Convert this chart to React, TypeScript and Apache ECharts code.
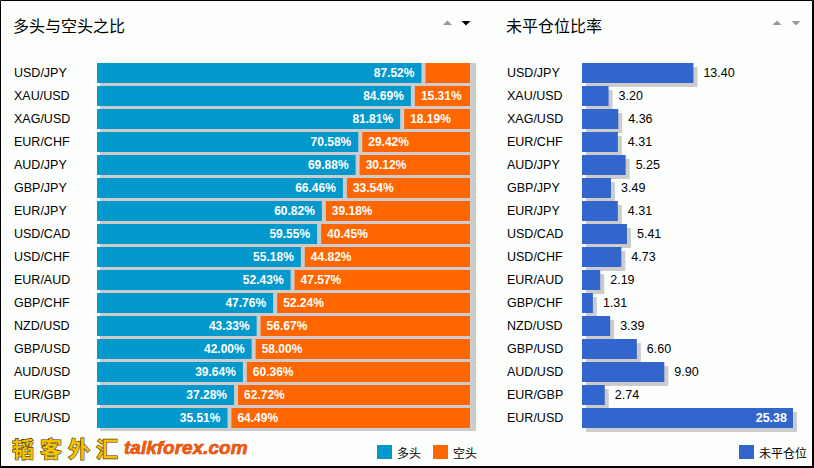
import React, { useEffect, useRef } from "react";
import * as echarts from "echarts";

const categories = [
  "USD/JPY", "XAU/USD", "XAG/USD", "EUR/CHF", "AUD/JPY", "GBP/JPY", "EUR/JPY", "USD/CAD",
  "USD/CHF", "EUR/AUD", "GBP/CHF", "NZD/USD", "GBP/USD", "AUD/USD", "EUR/GBP", "EUR/USD",
];
const longPct = [87.52, 84.69, 81.81, 70.58, 69.88, 66.46, 60.82, 59.55, 55.18, 52.43, 47.76, 43.33, 42.0, 39.64, 37.28, 35.51];
const shortPct = [12.48, 15.31, 18.19, 29.42, 30.12, 33.54, 39.18, 40.45, 44.82, 47.57, 52.24, 56.67, 58.0, 60.36, 62.72, 64.49];
const openInterest = [13.4, 3.2, 4.36, 4.31, 5.25, 3.49, 4.31, 5.41, 4.73, 2.19, 1.31, 3.39, 6.6, 9.9, 2.74, 25.38];
const leftTitle = "多头与空头之比";
const rightTitle = "未平仓位比率";
const leftLegend = ["多头", "空头"];
const rightLegend = ["未平仓位"];

const BLUE = "#0399cc";
const ORANGE = "#ff6600";
const RBLUE = "#3366cc";
const SHADOW = "#cccccc";
const BAR_H = 20;
const LAT = '"Liberation Sans", Arial, sans-serif';
const CJK = '"Noto Sans CJK SC", sans-serif';

function txt(text: string, x: number, y: number, fill: string, font: string, align: string) {
  return {
    type: "text",
    style: {
      text, x, y, fill, font,
      textAlign: align, align,
      textVerticalAlign: "middle", verticalAlign: "middle",
    },
  };
}

function buildOption() {
  const oiMax = Math.max(...openInterest);
  const catLabel = {
    align: "left",
    color: "#000",
    fontSize: 12.5,
    fontFamily: LAT,
  };
  return {
    animation: false,
    backgroundColor: "#fcfefc",
    grid: [
      { left: 97, right: 344, top: 61.5, height: 368 },
      { left: 582, right: 21, top: 61.5, height: 368 },
    ],
    xAxis: [
      { gridIndex: 0, type: "value", min: 0, max: 100, show: false },
      { gridIndex: 1, type: "value", min: 0, max: (v: any) => v.max, show: false },
    ],
    yAxis: [
      {
        gridIndex: 0, type: "category", data: categories, inverse: true,
        axisLine: { show: false }, axisTick: { show: false }, splitLine: { show: false },
        axisLabel: { ...catLabel, margin: 83 },
      },
      {
        gridIndex: 1, type: "category", data: categories, inverse: true,
        axisLine: { show: false }, axisTick: { show: false }, splitLine: { show: false },
        axisLabel: { ...catLabel, margin: 75 },
      },
    ],
    legend: [
      {
        data: leftLegend, left: 372, top: 440, itemWidth: 15, itemHeight: 14, itemGap: 12,
        icon: "rect", selectedMode: false,
        textStyle: { fontSize: 12, fontFamily: CJK, color: "#000" },
      },
      {
        data: rightLegend, left: 734, top: 440, itemWidth: 15, itemHeight: 14,
        icon: "rect", selectedMode: false,
        textStyle: { fontSize: 12, fontFamily: CJK, color: "#000" },
      },
    ],
    series: [
      {
        type: "custom", name: "shadowL", silent: true, z: 1,
        xAxisIndex: 0, yAxisIndex: 0,
        encode: { x: 0, y: 1 },
        data: longPct.map((v, i) => [v + shortPct[i], i]),
        renderItem: (params: any, api: any) => {
          const s = api.coord([0, api.value(1)]);
          const e = api.coord([api.value(0), api.value(1)]);
          return {
            type: "rect",
            shape: { x: s[0] + 3, y: s[1] - BAR_H / 2, width: e[0] - s[0] + 3, height: BAR_H + 3 },
            style: { fill: SHADOW },
          };
        },
      },
      {
        type: "custom", name: leftLegend[0], silent: true, z: 2,
        xAxisIndex: 0, yAxisIndex: 0,
        itemStyle: { color: BLUE },
        encode: { x: 0, y: 1 },
        data: longPct.map((v, i) => [v, i]),
        renderItem: (params: any, api: any) => {
          const v = api.value(0);
          const s = api.coord([0, api.value(1)]);
          const e = api.coord([v, api.value(1)]);
          const right = e[0] - 2;
          const children: any[] = [
            {
              type: "rect",
              shape: { x: s[0], y: s[1] - BAR_H / 2, width: right - s[0], height: BAR_H },
              style: { fill: BLUE },
            },
          ];
          if (right - s[0] > 52) {
            children.push(txt(v.toFixed(2) + "%", right - 7, s[1], "#fff", `bold 12px ${LAT}`, "right"));
          }
          return { type: "group", children };
        },
      },
      {
        type: "custom", name: leftLegend[1], silent: true, z: 2,
        xAxisIndex: 0, yAxisIndex: 0,
        itemStyle: { color: ORANGE },
        encode: { x: 0, y: 1 },
        data: shortPct.map((v, i) => [longPct[i], i, v]),
        renderItem: (params: any, api: any) => {
          const l = api.value(0);
          const v = api.value(2);
          const s = api.coord([l, api.value(1)]);
          const e = api.coord([l + v, api.value(1)]);
          const left = s[0] + 2;
          const children: any[] = [
            {
              type: "rect",
              shape: { x: left, y: s[1] - BAR_H / 2, width: e[0] - left, height: BAR_H },
              style: { fill: ORANGE },
            },
          ];
          if (e[0] - left > 52) {
            children.push(txt(v.toFixed(2) + "%", left + 6, s[1], "#fff", `bold 12px ${LAT}`, "left"));
          }
          return { type: "group", children };
        },
      },
      {
        type: "custom", name: "shadowR", silent: true, z: 1,
        xAxisIndex: 1, yAxisIndex: 1,
        encode: { x: 0, y: 1 },
        data: openInterest.map((v, i) => [v, i]),
        renderItem: (params: any, api: any) => {
          const s = api.coord([0, api.value(1)]);
          const e = api.coord([api.value(0), api.value(1)]);
          return {
            type: "rect",
            shape: { x: s[0] + 4, y: s[1] - BAR_H / 2 + 4, width: e[0] - s[0], height: BAR_H },
            style: { fill: SHADOW },
          };
        },
      },
      {
        type: "custom", name: rightLegend[0], silent: true, z: 2,
        xAxisIndex: 1, yAxisIndex: 1,
        itemStyle: { color: RBLUE },
        encode: { x: 0, y: 1 },
        data: openInterest.map((v, i) => [v, i]),
        renderItem: (params: any, api: any) => {
          const v = api.value(0);
          const s = api.coord([0, api.value(1)]);
          const e = api.coord([v, api.value(1)]);
          const children: any[] = [
            {
              type: "rect",
              shape: { x: s[0], y: s[1] - BAR_H / 2, width: e[0] - s[0], height: BAR_H },
              style: { fill: RBLUE },
            },
          ];
          if (v >= oiMax) {
            children.push(txt(v.toFixed(2), e[0] - 6, s[1], "#fff", `bold 12.5px ${LAT}`, "right"));
          } else {
            children.push(txt(v.toFixed(2), e[0] + 10, s[1], "#000", `12.5px ${LAT}`, "left"));
          }
          return { type: "group", children };
        },
      },
    ],
    graphic: [
      { type: "rect", silent: true, shape: { x: 0.5, y: 0.5, width: 812, height: 466 }, style: { fill: "none", stroke: "#000", lineWidth: 1 } },
      { type: "line", silent: true, shape: { x1: 813.5, y1: 0, x2: 813.5, y2: 468 }, style: { stroke: "#000", lineWidth: 1 } },
      { type: "line", silent: true, shape: { x1: 0, y1: 467.5, x2: 814, y2: 467.5 }, style: { stroke: "#000", lineWidth: 1 } },
      txt(leftTitle, 13, 25, "#000", `16px ${CJK}`, "left"),
      txt(rightTitle, 506, 25, "#000", `16px ${CJK}`, "left"),
      { type: "polygon", silent: true, shape: { points: [[443, 25], [452, 25], [447.5, 20.5]] }, style: { fill: "#999" } },
      { type: "polygon", silent: true, shape: { points: [[461.5, 21], [470.5, 21], [466, 25.5]] }, style: { fill: "#000" } },
      { type: "polygon", silent: true, shape: { points: [[772.5, 25], [781.5, 25], [777, 20.5]] }, style: { fill: "#999" } },
      { type: "polygon", silent: true, shape: { points: [[791.5, 21], [800.5, 21], [796, 25.5]] }, style: { fill: "#999" } },
      ...["韬", "客", "外", "汇"].map((c, i) => ({
        type: "text", silent: true,
        style: {
          text: c, x: 12 + i * 28, y: 447, fill: "#f2c200", stroke: "#4a3000", lineWidth: 1.2,
          font: `bold 22px ${CJK}`, textAlign: "left", align: "left",
          textVerticalAlign: "middle", verticalAlign: "middle",
        },
      })),
      {
        type: "text", silent: true,
        style: {
          text: "talkforex.com", x: 124, y: 447, fill: "#f25a0a", stroke: "#b02000", lineWidth: 0.6,
          font: `italic bold 19px ${LAT}`, textAlign: "left", align: "left",
          textVerticalAlign: "middle", verticalAlign: "middle",
        },
      },
    ],
  };
}

export default function App() {
  const ref = useRef<HTMLDivElement>(null);
  useEffect(() => {
    if (!ref.current) return;
    const chart = echarts.init(ref.current, null, { renderer: "svg" });
    chart.setOption(buildOption() as any);
    return () => chart.dispose();
  }, []);
  return <div ref={ref} style={{ position: "fixed", left: 0, top: 0, width: 814, height: 468 }} />;
}
